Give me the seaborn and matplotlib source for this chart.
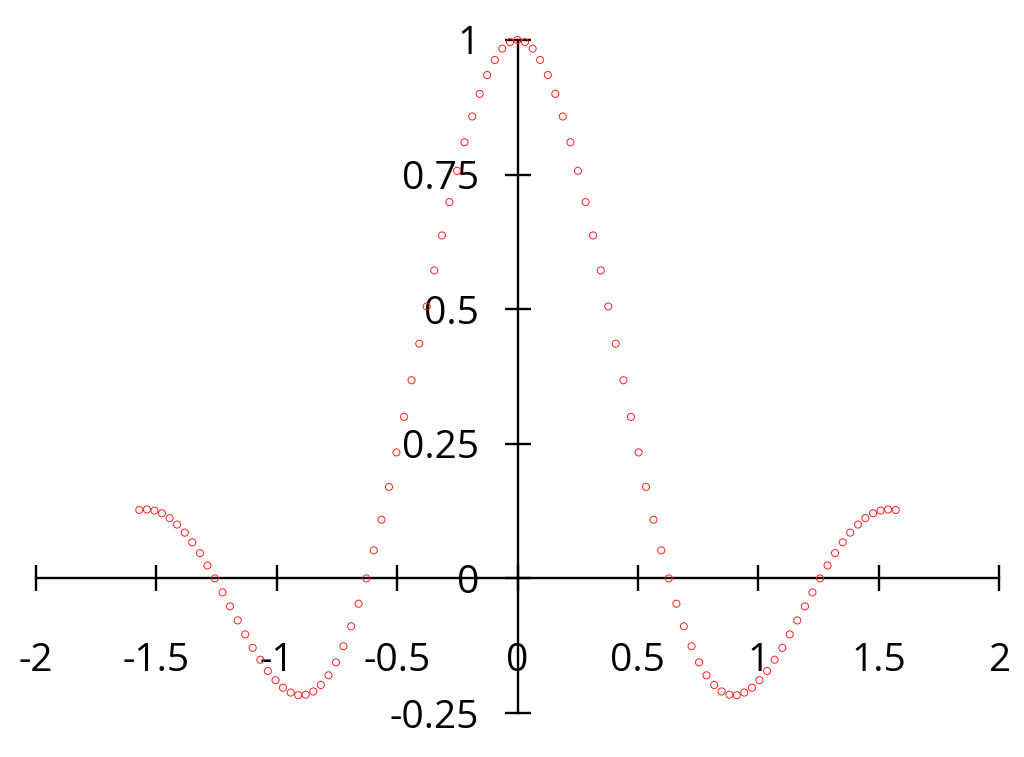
import matplotlib
matplotlib.use("Agg")
import matplotlib.pyplot as plt
import seaborn as sns
import pandas as pd

x_vals = [
    -1.571, -1.539, -1.508, -1.477, -1.445, -1.414, -1.382, -1.351, -1.319, -1.288,
    -1.257, -1.225, -1.194, -1.162, -1.131, -1.100, -1.068, -1.037, -1.005, -0.974,
    -0.942, -0.911, -0.880, -0.848, -0.817, -0.785, -0.754, -0.723, -0.691, -0.660,
    -0.628, -0.597, -0.565, -0.534, -0.503, -0.471, -0.440, -0.408, -0.377, -0.346,
    -0.314, -0.283, -0.251, -0.220, -0.188, -0.157, -0.126, -0.094, -0.063, -0.031,
    0.000,
    0.031, 0.063, 0.094, 0.126, 0.157, 0.188, 0.220, 0.251, 0.283, 0.314,
    0.346, 0.377, 0.408, 0.440, 0.471, 0.503, 0.534, 0.565, 0.597, 0.628,
    0.660, 0.691, 0.723, 0.754, 0.785, 0.817, 0.848, 0.880, 0.911, 0.942,
    0.974, 1.005, 1.037, 1.068, 1.100, 1.131, 1.162, 1.194, 1.225, 1.257,
    1.288, 1.319, 1.351, 1.382, 1.414, 1.445, 1.477, 1.508, 1.539, 1.571,
]
y_vals = [
    0.127, 0.128, 0.126, 0.121, 0.112, 0.100, 0.085, 0.067, 0.047, 0.024,
    0.000, -0.026, -0.052, -0.078, -0.104, -0.129, -0.151, -0.172, -0.189, -0.203,
    -0.212, -0.217, -0.216, -0.210, -0.198, -0.180, -0.156, -0.126, -0.089, -0.047,
    0.000, 0.052, 0.109, 0.170, 0.234, 0.300, 0.368, 0.436, 0.505, 0.572,
    0.637, 0.699, 0.757, 0.810, 0.858, 0.900, 0.935, 0.963, 0.984, 0.996,
    1.000,
    0.996, 0.984, 0.963, 0.935, 0.900, 0.858, 0.810, 0.757, 0.699, 0.637,
    0.572, 0.505, 0.436, 0.368, 0.300, 0.234, 0.170, 0.109, 0.052, 0.000,
    -0.047, -0.089, -0.126, -0.156, -0.180, -0.198, -0.210, -0.216, -0.217, -0.212,
    -0.203, -0.189, -0.172, -0.151, -0.129, -0.104, -0.078, -0.052, -0.026, 0.000,
    0.024, 0.047, 0.067, 0.085, 0.100, 0.112, 0.121, 0.126, 0.128, 0.127,
]
x_ticks = [-2, -1.5, -1, -0.5, 0, 0.5, 1, 1.5, 2]
x_labels = ["-2", "-1.5", "-1", "-0.5", "0", "0.5", "1", "1.5", "2"]
y_ticks = [-0.25, 0, 0.25, 0.5, 0.75, 1]
y_labels = ["-0.25", "0", "0.25", "0.5", "0.75", "1"]

df = pd.DataFrame({"x": x_vals, "y": y_vals})

sns.set_style("white")
plt.rcParams["font.family"] = ["Open Sans", "DejaVu Sans"]
plt.rcParams["axes.unicode_minus"] = False

fig = plt.figure(figsize=(10.24, 7.57), dpi=100)
ax = fig.add_axes([36 / 1024, 44 / 757, 963 / 1024, 673 / 757])

sns.scatterplot(
    data=df, x="x", y="y", ax=ax,
    marker="o", s=26, facecolor="none", edgecolor="#ff2020", linewidth=0.7,
    clip_on=False, zorder=3,
)

ax.set_xlim(-2, 2)
ax.set_ylim(-0.25, 1)
ax.set_xlabel("")
ax.set_ylabel("")

# axes through the origin
ax.spines["left"].set_position(("data", 0))
ax.spines["bottom"].set_position(("data", 0))
ax.spines["top"].set_visible(False)
ax.spines["right"].set_visible(False)
for side in ["left", "bottom"]:
    ax.spines[side].set_linewidth(1.7)
    ax.spines[side].set_color("black")

ax.set_xticks(x_ticks)
ax.set_xticklabels(x_labels)
ax.set_yticks(y_ticks)
ax.set_yticklabels(y_labels)
ax.tick_params(axis="both", direction="inout", length=19, width=1.7,
               colors="black", labelsize=28, bottom=True, left=True)
ax.tick_params(axis="x", pad=36)
ax.tick_params(axis="y", pad=18)

fig.savefig("out.png", dpi=100)
